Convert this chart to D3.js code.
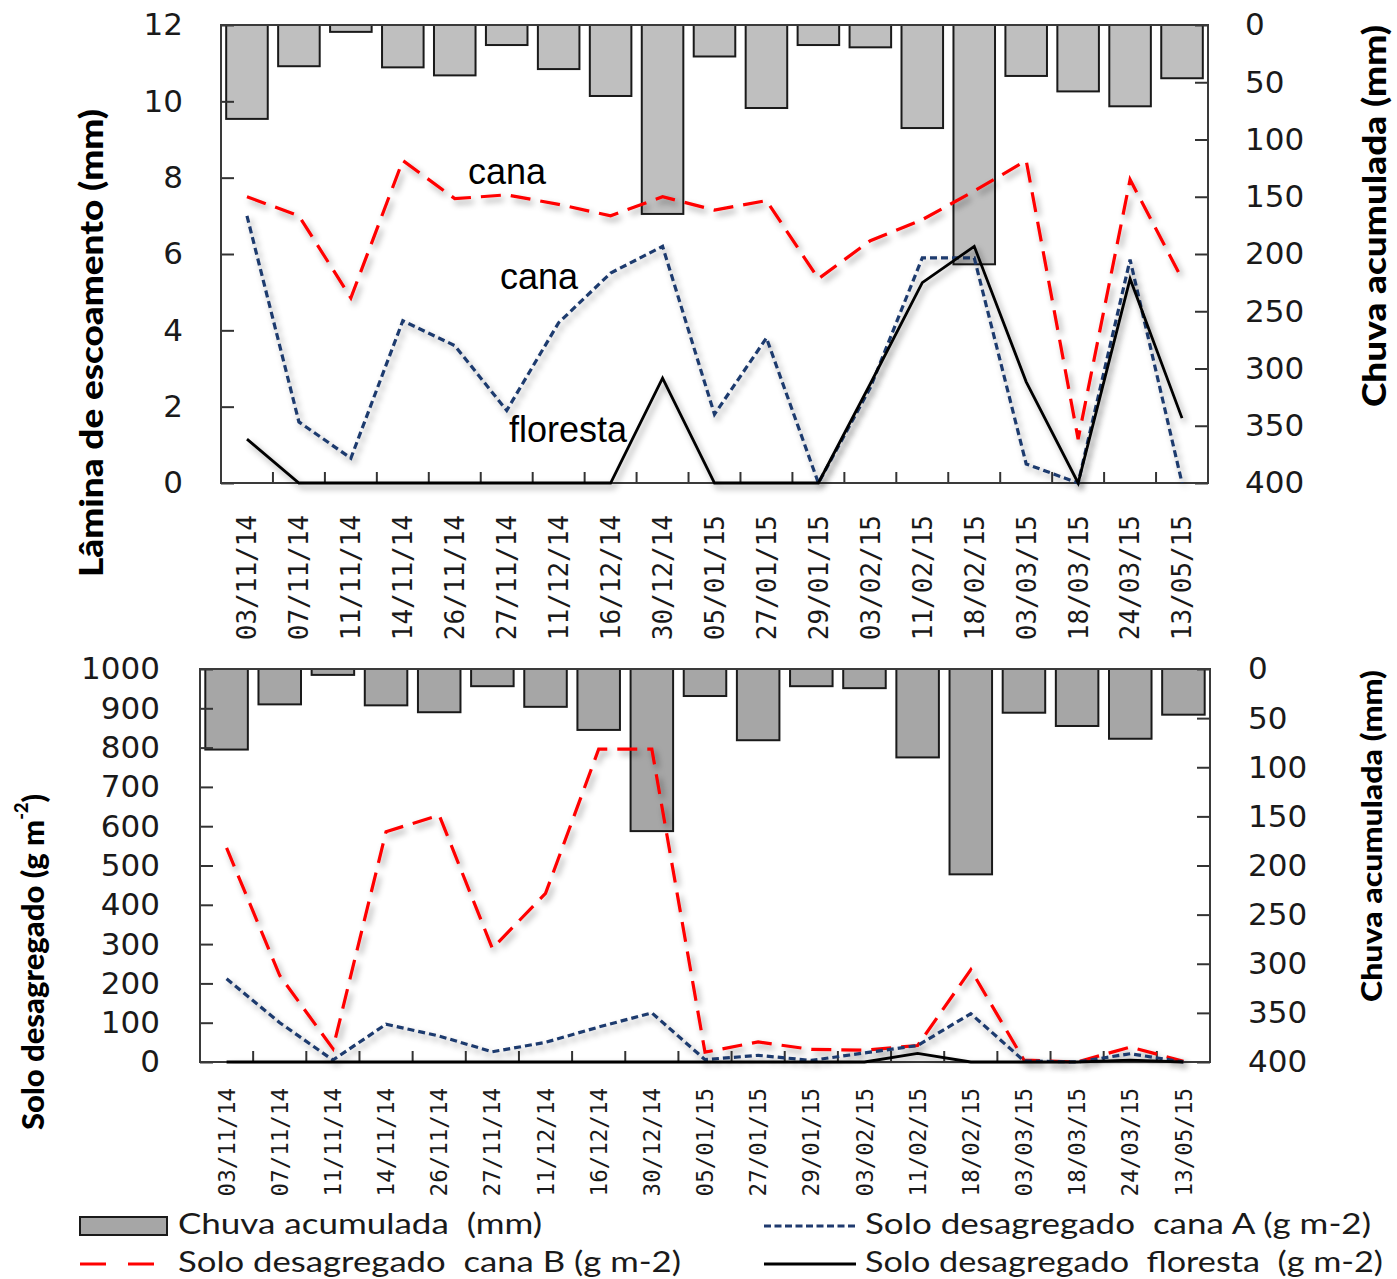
<!DOCTYPE html>
<html><head><meta charset="utf-8">
<script src="https://cdn.jsdelivr.net/npm/d3@7"></script>
<style>
body{margin:0;background:#fff;}
svg{display:block;}
</style></head><body>
<svg id="chart" width="1397" height="1279"></svg>
<script>
// Sampling dates (category axis)
const dates = ["03/11/14","07/11/14","11/11/14","14/11/14","26/11/14","27/11/14","11/12/14","16/12/14","30/12/14",
               "05/01/15","27/01/15","29/01/15","03/02/15","11/02/15","18/02/15","03/03/15","18/03/15","24/03/15","13/05/15"];

// Accumulated rainfall between samplings (mm) – drawn as hanging bars
const rainMm = [82, 36, 6, 37, 44, 17.5, 38.5, 62, 165, 27.5, 72.5, 17.5, 19.5, 90, 209, 44.5, 58, 71, 46.5];

// Runoff depth (mm)
const runoffCanaB    = [7.5, 7.0, 4.85, 8.45, 7.45, 7.55, 7.3, 7.0, 7.5, 7.15, 7.4, 5.35, 6.35, 6.9, 7.65, 8.45, 1.15, 7.95, 5.35];
const runoffCanaA    = [7.0, 1.6, 0.65, 4.25, 3.6, 1.9, 4.2, 5.5, 6.2, 1.8, 3.8, 0, 2.5, 5.9, 5.9, 0.5, 0, 5.85, 0];
const runoffFloresta = [1.15, 0, 0, 0, 0, 0, 0, 0, 2.75, 0, 0, 0, 2.6, 5.25, 6.2, 2.65, 0, 5.35, 1.7];

// Detached soil (g m-2)
const soilCanaB    = [545, 220, 34, 586, 628, 289, 429, 796, 796, 25, 51, 32, 30, 42, 235, 5, 0, 38, 2];
const soilCanaA    = [212, 100, 5, 96, 66, 26, 50, 89, 125, 6, 17, 4, 23, 42, 123, 3, 0, 21, 0];
const soilFloresta = [0, 0, 0, 0, 0, 0, 0, 0, 0, 0, 0, 0, 0, 22, 0, 0, 0, 5, 0];

// Tick values
const runoffTicks = [0, 2, 4, 6, 8, 10, 12];
const soilTicks   = [0, 100, 200, 300, 400, 500, 600, 700, 800, 900, 1000];
const rainTicks   = [0, 50, 100, 150, 200, 250, 300, 350, 400];

const svg = d3.select("#chart");
const defs = svg.append("defs");
const flt = defs.append("filter").attr("id", "shadow")
  .attr("x", "-20%").attr("y", "-20%").attr("width", "140%").attr("height", "140%");
flt.append("feDropShadow").attr("dx", 3).attr("dy", 4).attr("stdDeviation", 3)
  .attr("flood-color", "#000").attr("flood-opacity", 0.38);

const TICK_FONT = "'DejaVu Sans', sans-serif";
const LABEL_FONT = "'DejaVu Sans Mono', monospace";
const TITLE_FONT = "Lato, 'Open Sans', sans-serif";

const styleB = {color: "#ff0000", width: 3.2, dash: "20,10"};
const styleA = {color: "#1f3a6e", width: 3.2, dash: "7,4"};
const styleF = {color: "#000000", width: 2.8, dash: null};

function drawPanel(o) {
  const g = svg.append("g");
  const x = d3.scaleBand().domain(dates).range([o.left, o.right])
    .paddingInner(0.2).paddingOuter(0.1);
  const yL = d3.scaleLinear().domain([0, o.leftMax]).range([o.bottom, o.top]);
  const yR = d3.scaleLinear().domain([0, 400]).range([o.top, o.bottom]);
  const cx = d => x(d) + x.bandwidth() / 2;

  // rainfall bars hanging from the top edge
  g.append("g").selectAll("rect").data(dates).join("rect")
    .attr("x", d => x(d)).attr("width", x.bandwidth())
    .attr("y", yR(0)).attr("height", (d, i) => yR(rainMm[i]) - yR(0))
    .attr("fill", o.barFill).attr("stroke", "#1a1a1a").attr("stroke-width", 2);

  // left axis
  const axL = g.append("g").attr("transform", `translate(${o.left},0)`)
    .call(d3.axisLeft(yL).tickValues(o.leftTicks).tickFormat(d3.format("d"))
      .tickSize(-13).tickPadding(o.leftPad));
  // right axis
  const axR = g.append("g").attr("transform", `translate(${o.right},0)`)
    .call(d3.axisRight(yR).tickValues(rainTicks).tickFormat(d3.format("d"))
      .tickSize(-13).tickPadding(o.rightPad));
  [axL, axR].forEach(a => {
    a.select(".domain").remove();
    a.selectAll("line").attr("stroke", "#333").attr("stroke-width", 2);
    a.selectAll("text").attr("font-family", TICK_FONT).attr("font-size", o.tickSize).attr("fill", "#1a1a1a");
  });

  // category boundary ticks on the bottom edge
  const step = x.step();
  g.append("g").selectAll("line").data(d3.range(1, dates.length)).join("line")
    .attr("x1", i => o.left + i * step).attr("x2", i => o.left + i * step)
    .attr("y1", o.bottom).attr("y2", o.bottom - 11)
    .attr("stroke", "#333").attr("stroke-width", 2);

  // frame
  g.append("rect").attr("x", o.left).attr("y", o.top)
    .attr("width", o.right - o.left).attr("height", o.bottom - o.top)
    .attr("fill", "none").attr("stroke", "#3a3a3a").attr("stroke-width", 2);

  // date labels
  g.append("g").selectAll("text").data(dates).join("text")
    .attr("transform", d => `translate(${cx(d)},${o.labelTop}) rotate(-90)`)
    .attr("text-anchor", "end").attr("dy", "0.36em")
    .attr("font-family", LABEL_FONT).attr("font-size", o.labelSize).attr("fill", "#1a1a1a")
    .text(d => d);

  // series lines
  const line = d3.line().x((v, i) => cx(dates[i])).y(v => yL(v));
  o.series.forEach(s => {
    g.append("path").datum(s.values)
      .attr("d", line).attr("fill", "none")
      .attr("stroke", s.style.color).attr("stroke-width", s.style.width)
      .attr("stroke-dasharray", s.style.dash)
      .attr("stroke-linejoin", "miter")
      .attr("filter", "url(#shadow)");
  });
  return {x, yL, yR, g};
}

// ---- upper panel: runoff ----
const runoffPanel = drawPanel({
  left: 221, right: 1208, top: 25, bottom: 483,
  leftMax: 12, leftTicks: runoffTicks, leftPad: 38, rightPad: 37, tickSize: 31,
  barFill: "#bfbfbf", labelTop: 515, labelSize: 26,
  series: [
    {values: runoffCanaB, style: styleB},
    {values: runoffCanaA, style: styleA},
    {values: runoffFloresta, style: styleF}
  ]
});

svg.append("text").attr("transform", "translate(92,343) rotate(-90)")
  .attr("text-anchor", "middle").attr("dy", "0.35em")
  .attr("font-family", TITLE_FONT).attr("font-weight", 900).attr("font-size", 32)
  .attr("textLength", 468).attr("lengthAdjust", "spacingAndGlyphs")
  .text("Lâmina de escoamento (mm)");
svg.append("text").attr("transform", "translate(1375,216) rotate(-90)")
  .attr("text-anchor", "middle").attr("dy", "0.35em")
  .attr("font-family", TITLE_FONT).attr("font-weight", 900).attr("font-size", 32)
  .attr("textLength", 382).attr("lengthAdjust", "spacingAndGlyphs")
  .text("Chuva acumulada (mm)");

// in-plot series labels
const annot = [
  {t: "cana", x: 468, y: 184},
  {t: "cana", x: 500, y: 289},
  {t: "floresta", x: 509, y: 442}
];
svg.append("g").selectAll("text").data(annot).join("text")
  .attr("x", d => d.x).attr("y", d => d.y)
  .attr("font-family", "'Liberation Sans', Arial, sans-serif").attr("font-size", 36).attr("fill", "#000")
  .text(d => d.t);

// ---- lower panel: detached soil ----
const soilPanel = drawPanel({
  left: 200, right: 1210, top: 669, bottom: 1062,
  leftMax: 1000, leftTicks: soilTicks, leftPad: 40, rightPad: 38, tickSize: 31,
  barFill: "#a6a6a6", labelTop: 1088, labelSize: 22.5,
  series: [
    {values: soilCanaB, style: styleB},
    {values: soilCanaA, style: styleA},
    {values: soilFloresta, style: styleF}
  ]
});

const tSoil = svg.append("text").attr("transform", "translate(33,962) rotate(-90)")
  .attr("text-anchor", "middle").attr("dy", "0.35em")
  .attr("font-family", TITLE_FONT).attr("font-weight", 900).attr("font-size", 31);
tSoil.append("tspan").text("Solo desagregado (g m");
tSoil.append("tspan").attr("font-size", 18).attr("dy", "-0.9em").text("-2");
tSoil.append("tspan").attr("dy", "0.55em").text(")");
svg.append("text").attr("transform", "translate(1372,836) rotate(-90)")
  .attr("text-anchor", "middle").attr("dy", "0.35em")
  .attr("font-family", TITLE_FONT).attr("font-weight", 900).attr("font-size", 29)
  .attr("textLength", 332).attr("lengthAdjust", "spacingAndGlyphs")
  .text("Chuva acumulada (mm)");

// ---- legend ----
const lg = svg.append("g");
lg.append("rect").attr("x", 80).attr("y", 1217).attr("width", 87).attr("height", 18)
  .attr("fill", "#a6a6a6").attr("stroke", "#1a1a1a").attr("stroke-width", 2);
lg.append("line").attr("x1", 80).attr("x2", 155).attr("y1", 1264).attr("y2", 1264)
  .attr("stroke", styleB.color).attr("stroke-width", styleB.width).attr("stroke-dasharray", "26,22");
lg.append("line").attr("x1", 764).attr("x2", 856).attr("y1", 1226).attr("y2", 1226)
  .attr("stroke", styleA.color).attr("stroke-width", 3).attr("stroke-dasharray", "7,3.5");
lg.append("line").attr("x1", 764).attr("x2", 856).attr("y1", 1264).attr("y2", 1264)
  .attr("stroke", "#000").attr("stroke-width", 3);
const legendItems = [
  {t: "Chuva acumulada  (mm)", x: 178, y: 1234, w: 364},
  {t: "Solo desagregado  cana B (g m-2)", x: 178, y: 1272, w: 503},
  {t: "Solo desagregado  cana A (g m-2)", x: 865, y: 1234, w: 506},
  {t: "Solo desagregado  floresta  (g m-2)", x: 865, y: 1272, w: 518}
];
lg.selectAll("text").data(legendItems).join("text")
  .attr("x", d => d.x).attr("y", d => d.y)
  .attr("textLength", d => d.w).attr("lengthAdjust", "spacingAndGlyphs")
  .attr("font-family", TITLE_FONT).attr("font-size", 28).attr("fill", "#1a1a1a")
  .style("white-space", "pre")
  .text(d => d.t);
</script>
</body></html>
